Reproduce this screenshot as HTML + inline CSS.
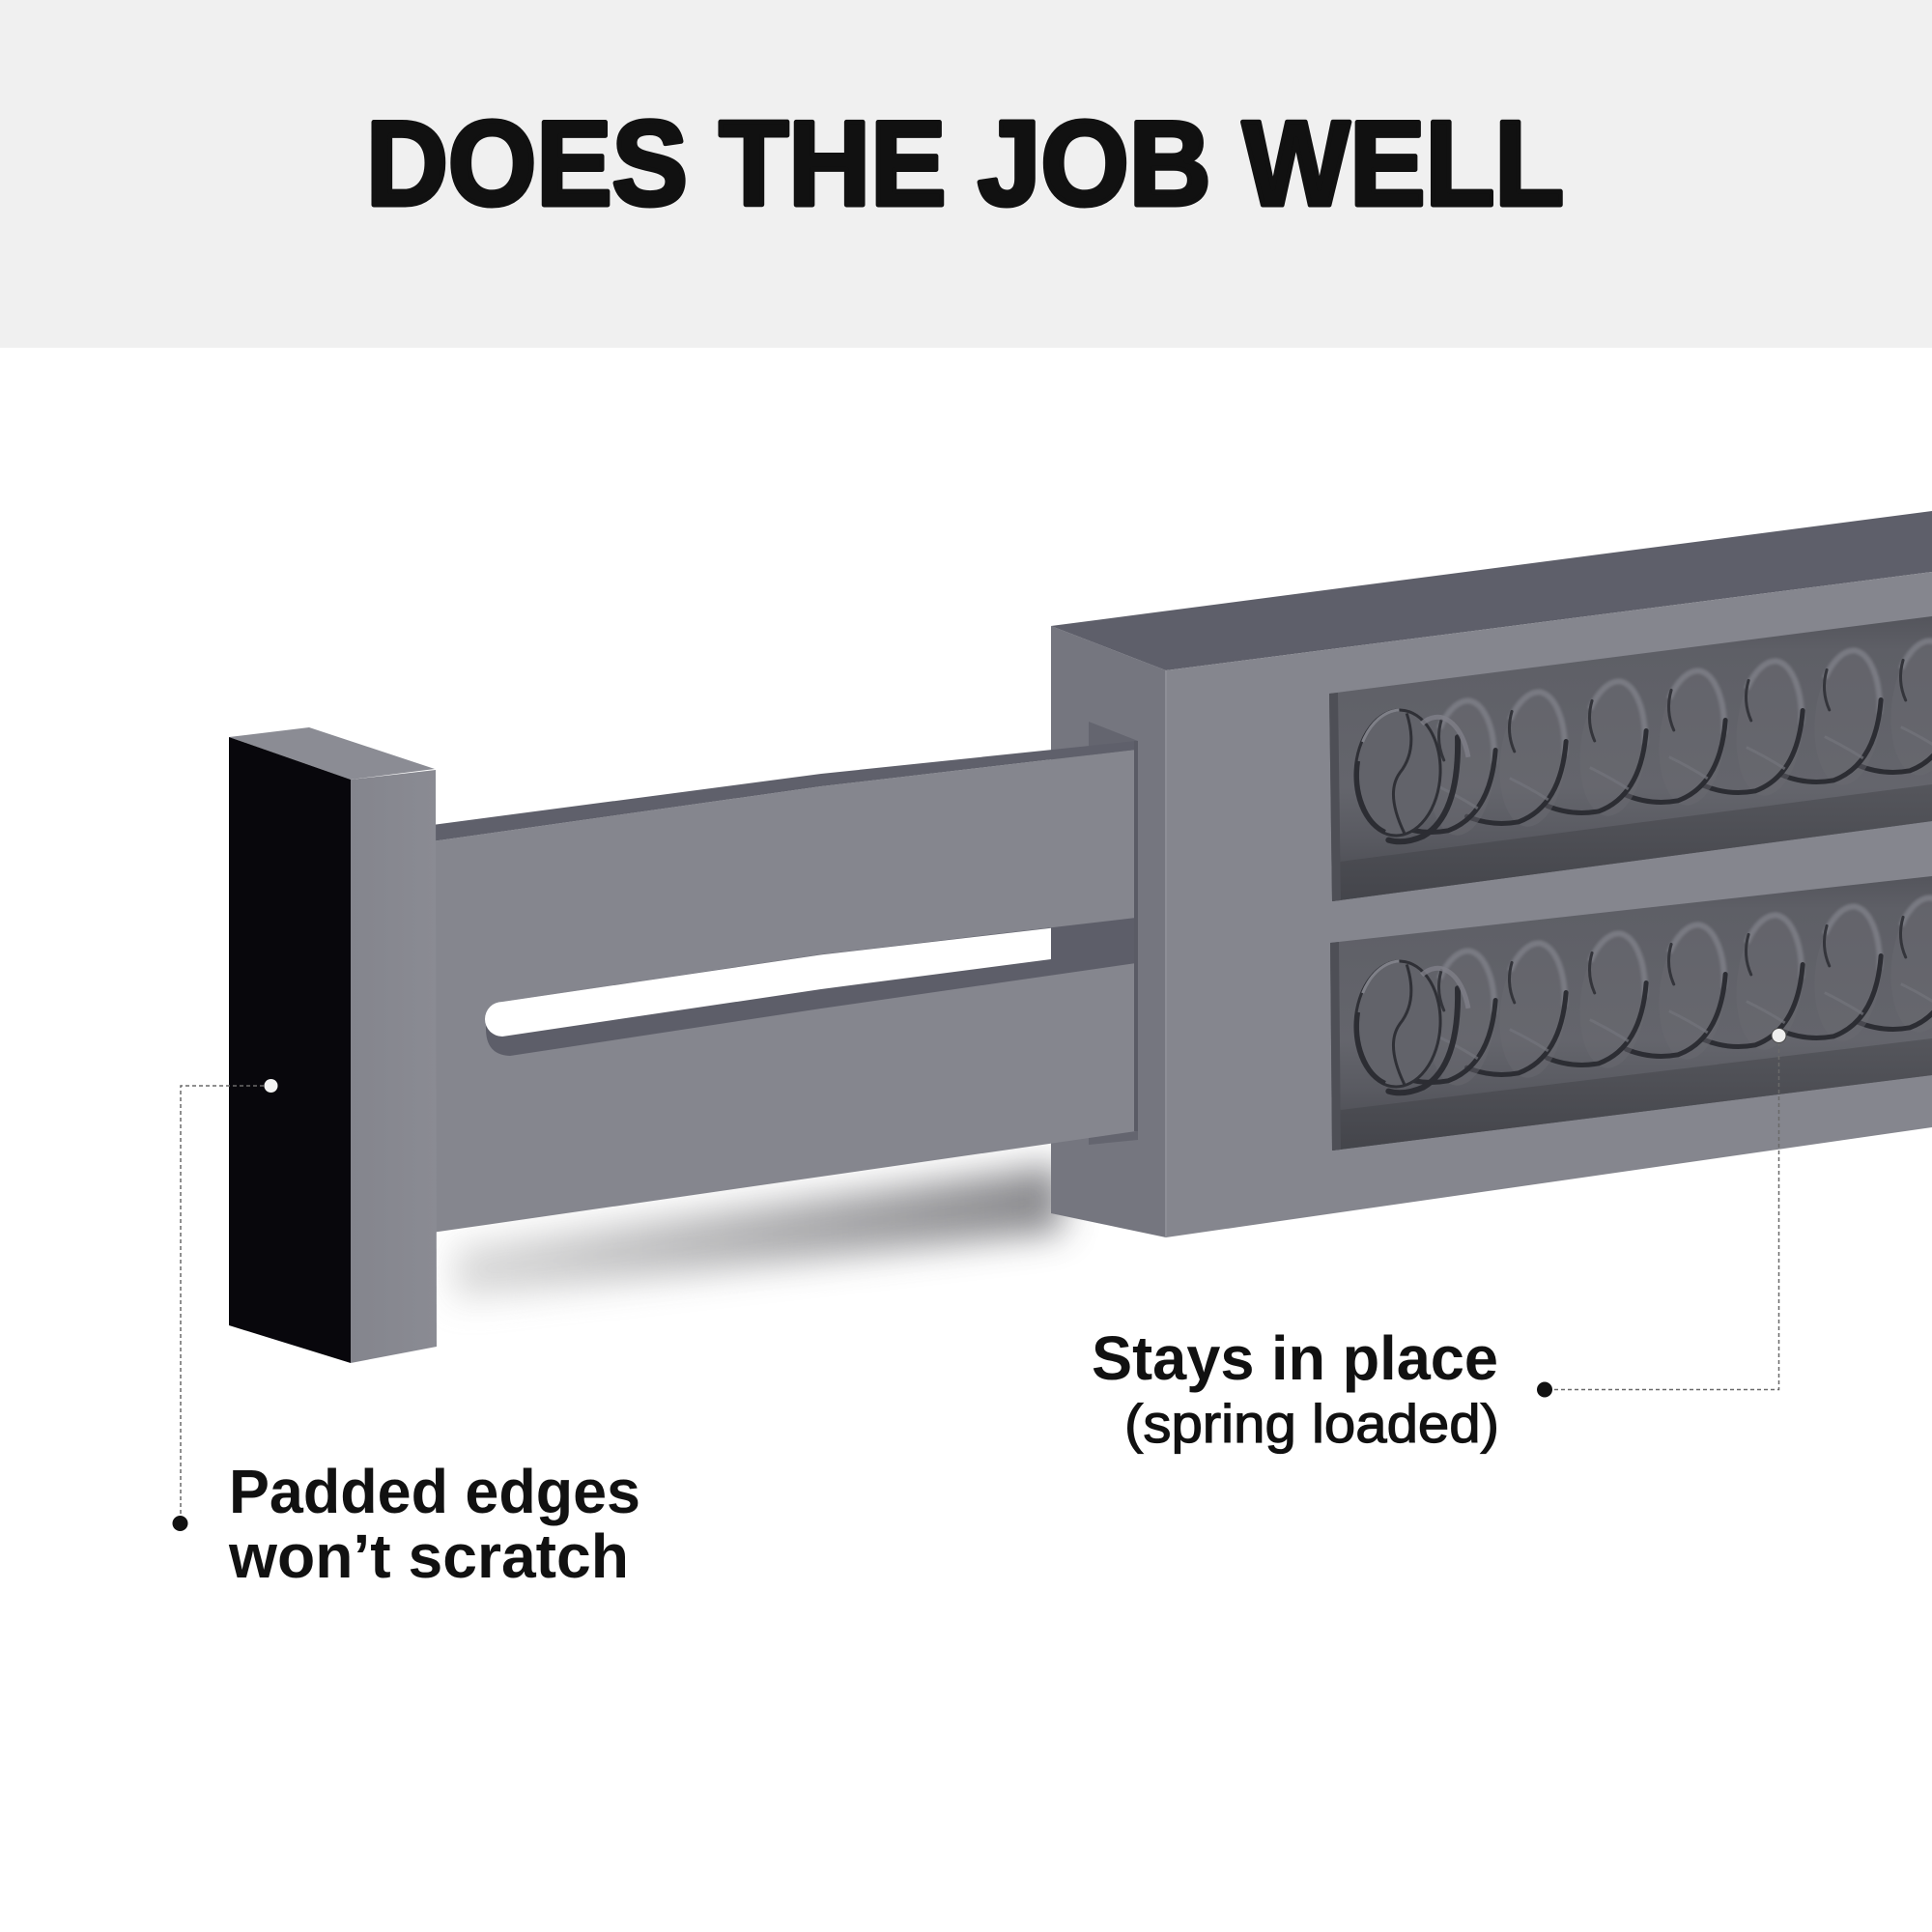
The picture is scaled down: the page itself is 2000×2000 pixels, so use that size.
<!DOCTYPE html>
<html>
<head>
<meta charset="utf-8">
<style>
  html, body { margin: 0; padding: 0; background: #ffffff; }
  svg { display: block; }
</style>
</head>
<body>
<svg width="2000" height="2000" viewBox="0 0 2000 2000" xmlns="http://www.w3.org/2000/svg">
  <defs>
    <filter id="blur" x="-30%" y="-100%" width="160%" height="300%">
      <feGaussianBlur stdDeviation="18"/>
    </filter>
    <filter id="soft" x="-20%" y="-20%" width="140%" height="140%">
      <feGaussianBlur stdDeviation="1.2"/>
    </filter>
    <linearGradient id="shadowGrad" x1="0" y1="0" x2="1" y2="0">
      <stop offset="0" stop-color="#d8d8d8"/>
      <stop offset="0.5" stop-color="#a9a9ab"/>
      <stop offset="1" stop-color="#7c7c80"/>
    </linearGradient>
    <linearGradient id="recessGrad" x1="0" y1="0" x2="0" y2="1">
      <stop offset="0" stop-color="#54555c"/>
      <stop offset="0.12" stop-color="#5e5f66"/>
      <stop offset="0.6" stop-color="#64656c"/>
      <stop offset="0.78" stop-color="#595a61"/>
      <stop offset="1" stop-color="#46474d"/>
    </linearGradient>
    <linearGradient id="bandGrad" x1="0" y1="0" x2="0" y2="1">
      <stop offset="0" stop-color="#55565c"/>
      <stop offset="1" stop-color="#44454b"/>
    </linearGradient>
    <linearGradient id="blockSide" x1="0" y1="0" x2="1" y2="0">
      <stop offset="0" stop-color="#84858d"/>
      <stop offset="1" stop-color="#8a8b93"/>
    </linearGradient>
    <g id="coil">
      <ellipse cx="0" cy="0" rx="34" ry="70" fill="#6a6b72" opacity="0.45"/>
      <path d="M -28,-38 A 34 70 0 0 1 0,-70 A 34 70 0 0 1 32,-8" fill="none" stroke="#7f8088" stroke-width="6" opacity="0.8" filter="url(#soft)"/>
      <path d="M -27,-47 Q -31,-25 -20,-6" fill="none" stroke="#34353b" stroke-width="3" stroke-linecap="round"/>
      <path d="M 32,-22 Q 34,45 -8,66 Q -35,74 -62,66" fill="none" stroke="#2c2d33" stroke-width="5" stroke-linecap="round"/>
      <path d="M 20,40 Q 0,30 -22,22" fill="none" stroke="#74757c" stroke-width="3" opacity="0.7"/>
    </g>
    <g id="capcoil">
      <ellipse cx="0" cy="0" rx="44" ry="65" fill="#62636a" stroke="#2f3036" stroke-width="3"/>
      <path d="M -38,-30 A 44 65 0 0 1 -2,-65" fill="none" stroke="#7f8088" stroke-width="3"/>
      <path d="M -42,-10 A 44 65 0 0 0 -10,62" fill="none" stroke="#2c2d33" stroke-width="5"/>
      <path d="M 6,-62 Q 20,-25 2,0 Q -12,22 10,62" fill="none" stroke="#2f3036" stroke-width="3"/>
      <path d="M 60,-40 Q 66,40 30,64 Q 10,74 -6,70" fill="none" stroke="#2c2d33" stroke-width="6" stroke-linecap="round"/>
      <path d="M 22,-52 A 36 66 0 0 1 72,-20" fill="none" stroke="#7f8088" stroke-width="5" opacity="0.8"/>
    </g>
  </defs>

  <!-- header band -->
  <rect x="0" y="0" width="2000" height="360" fill="#f0f0f0"/>
  <text x="379" y="212" font-family="'Liberation Sans', Arial, sans-serif" font-weight="bold" font-size="124" textLength="1240" lengthAdjust="spacingAndGlyphs" fill="#111111" stroke="#111111" stroke-width="5" stroke-linejoin="round">DOES THE JOB WELL</text>

  <!-- soft shadow under bar -->
  <polygon points="470,1290 1100,1205 1100,1275 470,1345" fill="url(#shadowGrad)" filter="url(#blur)" opacity="0.9"/>

  <!-- box side face -->
  <polygon points="1088,648 1207,694 1207,1281 1088,1256" fill="#75767f"/>
  <!-- box top face -->
  <polygon points="1088,648 2000,529 2000,592 1207,694" fill="#5e5f6a"/>
  <!-- box front face -->
  <polygon points="1207,694 2000,592 2000,1167 1207,1281" fill="#85868e"/>
  <line x1="1207" y1="694" x2="1207" y2="1281" stroke="#8d8e96" stroke-width="2"/>

  <!-- upper recess -->
  <polygon points="1376,718 2000,638 2000,850 1379,933" fill="url(#recessGrad)"/>
  <polygon points="1379,893 2000,812 2000,850 1379,933" fill="url(#bandGrad)"/>
  <polygon points="1376,718 1385,717 1388,932 1379,933" fill="#4e4f56"/>
  <!-- lower recess -->
  <polygon points="1377,976 2000,907 2000,1113 1379,1191" fill="url(#recessGrad)"/>
  <polygon points="1379,1150 2000,1075 2000,1113 1379,1191" fill="url(#bandGrad)"/>
  <polygon points="1377,976 1386,975 1388,1190 1379,1191" fill="#4e4f56"/>

  <!-- springs upper -->
  <g transform="translate(1992,733) rotate(6)"><use href="#coil"/></g>
  <g transform="translate(1913,743) rotate(6)"><use href="#coil"/></g>
  <g transform="translate(1832,754) rotate(6)"><use href="#coil"/></g>
  <g transform="translate(1752,764) rotate(6)"><use href="#coil"/></g>
  <g transform="translate(1670,775) rotate(6)"><use href="#coil"/></g>
  <g transform="translate(1587,786) rotate(6)"><use href="#coil"/></g>
  <g transform="translate(1514,795) rotate(6)"><use href="#coil"/></g>
  <g transform="translate(1447,800) rotate(3)"><use href="#capcoil"/></g>

  <!-- springs lower -->
  <g transform="translate(1992,999) rotate(6)"><use href="#coil"/></g>
  <g transform="translate(1913,1008) rotate(6)"><use href="#coil"/></g>
  <g transform="translate(1832,1017) rotate(6)"><use href="#coil"/></g>
  <g transform="translate(1752,1027) rotate(6)"><use href="#coil"/></g>
  <g transform="translate(1670,1036) rotate(6)"><use href="#coil"/></g>
  <g transform="translate(1587,1046) rotate(6)"><use href="#coil"/></g>
  <g transform="translate(1514,1054) rotate(6)"><use href="#coil"/></g>
  <g transform="translate(1447,1060) rotate(3)"><use href="#capcoil"/></g>

  <!-- opening in box side -->
  <polygon points="1127,747 1178,767 1178,1180 1127,1185" fill="#64656f"/>

  <!-- sliding bar -->
  <polygon points="440,872 850,814 1176,776 1176,1171 850,1218 440,1277" fill="#85868e"/>
  <polygon points="440,855 850,801 1176,767 1176,776 850,814 440,872" fill="#5f606b"/>
  <!-- slot -->
  <path d="M520,1037 L850,988 L1176,950 L1176,997 L850,1044 L528,1093 Q503,1092 503,1065 Q503,1037 520,1037 Z" fill="#5d5e69"/>
  <path d="M520,1037 L850,988.4 L1088,960.7 L1088,993 L850,1024 L520,1073 A18 18 0 0 1 520,1037 Z" fill="#ffffff"/>
  <line x1="1176" y1="767" x2="1176" y2="1171" stroke="#5a5b65" stroke-width="4"/>

  <!-- end block -->
  <polygon points="237,763 320,753 450,796 363,807" fill="#8b8c94"/>
  <polygon points="237,763 363,807 363,1411 237,1372" fill="#08070c"/>
  <polygon points="363,807 451,797 452,1394 363,1411" fill="url(#blockSide)"/>

  <!-- dashed connectors -->
  <path d="M280,1124 H187 V1570" fill="none" stroke="#6a6a6a" stroke-width="1.5" stroke-dasharray="4 3"/>
  <path d="M1841.5,1072 V1438.5 H1600" fill="none" stroke="#6a6a6a" stroke-width="1.5" stroke-dasharray="4 3"/>

  <!-- dots -->
  <circle cx="280.5" cy="1124" r="7" fill="#f4f4f4"/>
  <circle cx="1841.5" cy="1072" r="7.5" fill="#eeeeee" stroke="#4a4a4a" stroke-width="1"/>
  <circle cx="186.5" cy="1577" r="8" fill="#111111"/>
  <circle cx="1599" cy="1438.5" r="8" fill="#111111"/>

  <!-- labels -->
  <text x="1130" y="1428" font-family="'Liberation Sans', Arial, sans-serif" font-weight="bold" font-size="64" textLength="421" lengthAdjust="spacingAndGlyphs" fill="#111111">Stays in place</text>
  <text x="1164" y="1493" font-family="'Liberation Sans', Arial, sans-serif" font-size="56" textLength="388" lengthAdjust="spacingAndGlyphs" fill="#111111" stroke="#111111" stroke-width="1.2">(spring loaded)</text>
  <text x="237" y="1566" font-family="'Liberation Sans', Arial, sans-serif" font-weight="bold" font-size="64" textLength="426" lengthAdjust="spacingAndGlyphs" fill="#111111">Padded edges</text>
  <text x="237" y="1633" font-family="'Liberation Sans', Arial, sans-serif" font-weight="bold" font-size="64" textLength="414" lengthAdjust="spacingAndGlyphs" fill="#111111">won’t scratch</text>
</svg>
</body>
</html>
